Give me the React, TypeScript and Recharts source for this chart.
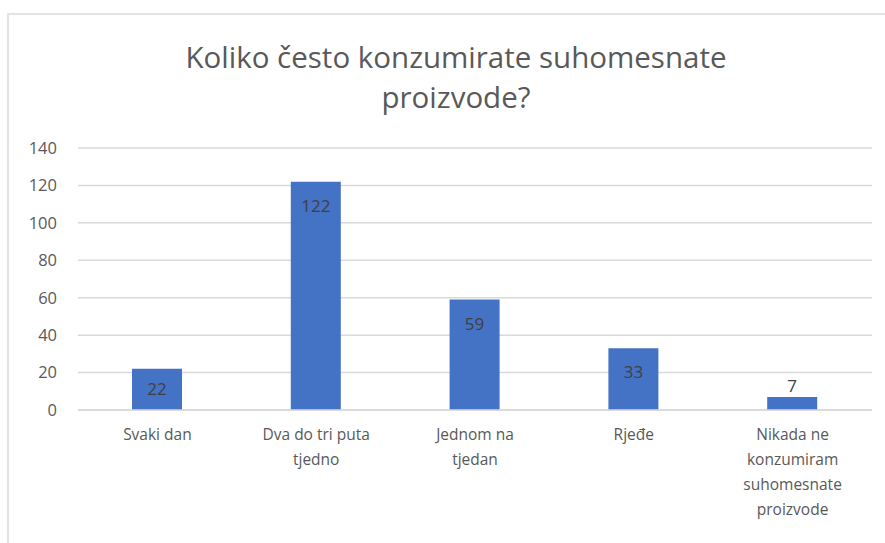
import React from "react";
import { BarChart, Bar, XAxis, YAxis, CartesianGrid, LabelList } from "recharts";

const categories = [
  "Svaki dan",
  "Dva do tri puta tjedno",
  "Jednom na tjedan",
  "Rjeđe",
  "Nikada ne konzumiram suhomesnate proizvode",
];
const values = [22, 122, 59, 33, 7];
const tickLabels: string[][] = [
  ["Svaki dan"],
  ["Dva do tri puta", "tjedno"],
  ["Jednom na", "tjedan"],
  ["Rjeđe"],
  ["Nikada ne", "konzumiram", "suhomesnate", "proizvode"],
];
const yTicks = [0, 20, 40, 60, 80, 100, 120, 140];
const titleLines = ["Koliko često konzumirate suhomesnate", "proizvode?"];

const data = categories.map((c, i) => ({ name: c, value: values[i], idx: i }));

const FONT = "'Open Sans', 'Noto Sans', sans-serif";
const TXT = "#595959";

const XTick = (props: any) => {
  const { x, y, payload } = props;
  const lines = tickLabels[payload.index] || [payload.value];
  return (
    <g>
      {lines.map((l, i) => (
        <text
          key={i}
          x={x}
          y={y + 22 + i * 25}
          textAnchor="middle"
          fontFamily={FONT}
          fontSize={15.5}
          fill={TXT}
        >
          {l}
        </text>
      ))}
    </g>
  );
};

const ValueLabel = (props: any) => {
  const { x, y, width, height, value } = props;
  const cx = x + width / 2;
  let ty: number;
  if (height < 25) ty = y - 5;
  else ty = y + Math.min(30, height / 2 + 6);
  return (
    <text x={cx} y={ty} textAnchor="middle" fontFamily={FONT} fontSize={17} fill="#404040">
      {value}
    </text>
  );
};

export default function App() {
  return (
    <div
      style={{
        position: "absolute",
        left: 0,
        top: 0,
        width: 885,
        height: 543,
        overflow: "hidden",
        background: "#fff",
      }}
    >
      <div
        style={{
          position: "absolute",
          left: 7,
          top: 13,
          width: 900,
          height: 600,
          borderTop: "2px solid #e4e4e4",
          borderLeft: "2px solid #e4e4e4",
        }}
      />
      <div
        style={{
          position: "absolute",
          left: 56,
          top: 37,
          width: 800,
          textAlign: "center",
          fontFamily: FONT,
          fontSize: 29.5,
          lineHeight: "40px",
          color: TXT,
        }}
      >
        {titleLines.map((t, i) => (
          <div key={i}>{t}</div>
        ))}
      </div>
      <div style={{ position: "absolute", left: 0, top: 0 }}>
        <BarChart
          width={885}
          height={543}
          data={data}
          margin={{ top: 148, right: 13, bottom: 13, left: 0 }}
        >
          <CartesianGrid vertical={false} stroke="#d9d9d9" strokeWidth={1.5} />
          <XAxis
            dataKey="name"
            axisLine={{ stroke: "#d9d9d9", strokeWidth: 1.5 }}
            tickLine={false}
            height={120}
            interval={0}
            tick={<XTick />}
          />
          <YAxis
            width={78}
            domain={[0, 140]}
            ticks={yTicks}
            axisLine={false}
            tickLine={false}
            tickMargin={15}
            tick={{ fontFamily: FONT, fontSize: 16.5, fill: TXT }}
          />
          <Bar dataKey="value" fill="#4472C4" barSize={50} isAnimationActive={false}>
            <LabelList dataKey="value" content={<ValueLabel />} />
          </Bar>
        </BarChart>
      </div>
    </div>
  );
}
